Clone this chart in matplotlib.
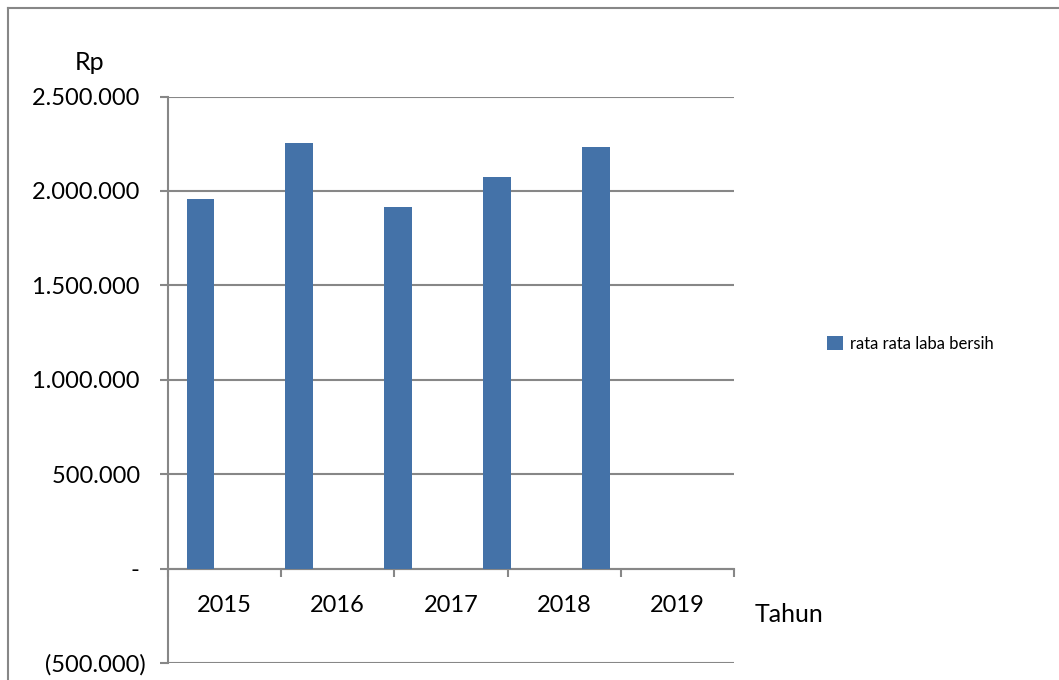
import matplotlib
matplotlib.use("Agg")
from matplotlib import pyplot as plt
from matplotlib.lines import Line2D

# dane
years = ["2015", "2016", "2017", "2018", "2019"]
laba = [1955000, 2252000, 1913000, 2072000, 2231000]
y_ticks = [-500000, 0, 500000, 1000000, 1500000, 2000000, 2500000]
y_labels = ["(500.000)", "- ", "500.000 ", "1.000.000 ", "1.500.000 ", "2.000.000 ", "2.500.000 "]

plt.rcParams["font.family"] = ["Lato", "DejaVu Sans"]
grid_col = "#878787"
bar_col = "#4472a8"

fig = plt.figure(figsize=(10.59, 6.8), dpi=100)
ax = fig.add_axes([0.1586, 0.025, 0.5345, 0.833])

# osie kategorii
ax.set_xlim(0, len(years))
ax.set_ylim(-500000, 2500000)
ax.set_yticks(y_ticks)
ax.set_yticklabels(y_labels, fontsize=17)
ax.tick_params(axis="y", length=6, width=1.5, color=grid_col, pad=10)
ax.yaxis.grid(True, color=grid_col, linewidth=1.5)
ax.set_axisbelow(True)
for s in ["top", "right"]:
    ax.spines[s].set_visible(False)
for s in ["left", "bottom"]:
    ax.spines[s].set_color(grid_col)
    ax.spines[s].set_linewidth(1.5)
ax.spines["bottom"].set_position(("data", 0))

ax.set_xticks(range(len(years) + 1))
ax.set_xticklabels([])
ax.tick_params(axis="x", which="major", length=6, width=1.5, color=grid_col)
ax.set_xticks([i + 0.5 for i in range(len(years))], minor=True)
ax.set_xticklabels(years, minor=True, fontsize=17)
ax.tick_params(axis="x", which="minor", length=0, pad=19)

# slupki (przesuniete jak w oryginale)
ax2 = ax.twiny()
ax2.set_xlim(-0.329, 5.394)
ax2.bar(range(len(years)), laba, width=0.283, color=bar_col, zorder=3,
        label="rata rata laba bersih")
ax2.set_xticks([])
for s in ax2.spines.values():
    s.set_visible(False)

fig.text(90 / 1059, 1 - 62 / 680, "Rp", fontsize=18, ha="center", va="center")
fig.text(755 / 1059, 1 - 614 / 680, "Tahun", fontsize=18, ha="left", va="center")

fig.legend(loc="center left", bbox_to_anchor=(827 / 1059, 1 - 344 / 680), frameon=False,
           fontsize=12, handlelength=0.95, handleheight=0.95, handletextpad=0.45,
           borderaxespad=0, borderpad=0)

# ramka
fig.add_artist(Line2D([8 / 1059, 8 / 1059], [0, 1 - 8 / 680], color=grid_col, linewidth=1.5,
                      transform=fig.transFigure))
fig.add_artist(Line2D([8 / 1059, 1], [1 - 8 / 680, 1 - 8 / 680], color=grid_col, linewidth=1.5,
                      transform=fig.transFigure))

plt.savefig("out.png", dpi=100)
plt.close()
